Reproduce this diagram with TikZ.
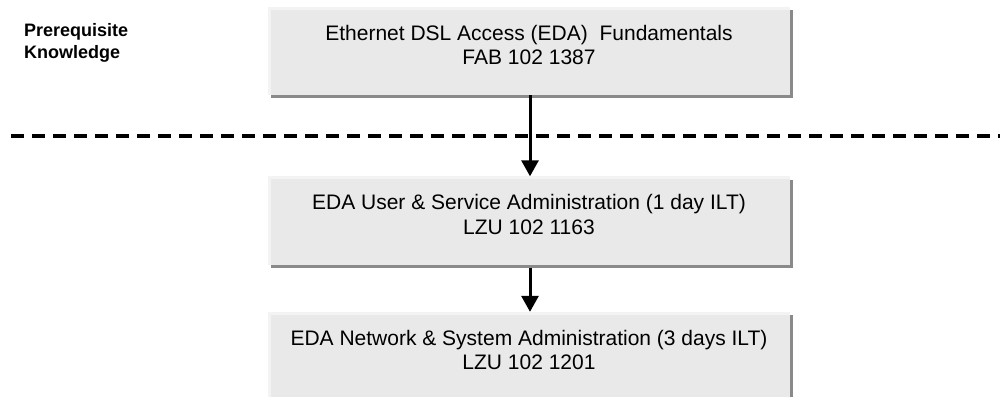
\documentclass[tikz,border=0pt]{standalone}
\usepackage{fontspec}
\setmainfont{Liberation Sans}
\usetikzlibrary{arrows.meta,shadows}
\definecolor{boxfill}{HTML}{E9E9E9}
\definecolor{boxedge}{HTML}{F3F3F3}
\definecolor{shadowgray}{HTML}{8A8A8A}
\begin{document}
\begin{tikzpicture}[x=1pt,y=-1pt,
  course/.style={draw=none, fill=boxfill, minimum width=522pt, minimum height=88pt,
    inner sep=0pt, align=center, font=\fontsize{21}{24.5}\selectfont, text depth=12pt,
    drop shadow={shadow xshift=3pt, shadow yshift=-3pt, fill=shadowgray, opacity=1}},
  edge/.style={draw=boxedge, line width=3pt},
  flow/.style={line width=3pt, -{Triangle[width=17pt,length=16pt]}},
  divider/.style={line width=4pt, dash pattern=on 13pt off 8pt}]
\useasboundingbox (0,0) rectangle (1000,396);
\node[course] (b1) at (529,51) {Ethernet DSL Access (EDA)\ \ Fundamentals\\FAB 102 1387};
\node[course] (b2) at (529,220.5) {EDA User \& Service Administration (1 day ILT)\\LZU 102 1163};
\node[course] (b3) at (529,356) {EDA Network \& System Administration (3 days ILT)\\LZU 102 1201};
\foreach \b in {b1,b2,b3}{
  \draw[edge] ([xshift=1.5pt]\b.south west) -- ([xshift=1.5pt,yshift=-1.5pt]\b.north west) -- ([yshift=-1.5pt]\b.north east);
}
\node[anchor=north west, inner sep=0pt, align=left, font=\bfseries\fontsize{18}{22.5}\selectfont] (pre) at (24,23) {Prerequisite\\Knowledge};
\coordinate (dl) at (11,135.7);
\coordinate (dr) at (1000,135.7);
\draw[divider] (dl) -- (dr);
\draw[flow] ([xshift=1pt]b1.south) -- ([xshift=1pt]b2.north);
\draw[flow] ([xshift=1pt,yshift=-3pt]b2.south) -- ([xshift=1pt]b3.north);
\end{tikzpicture}
\end{document}
